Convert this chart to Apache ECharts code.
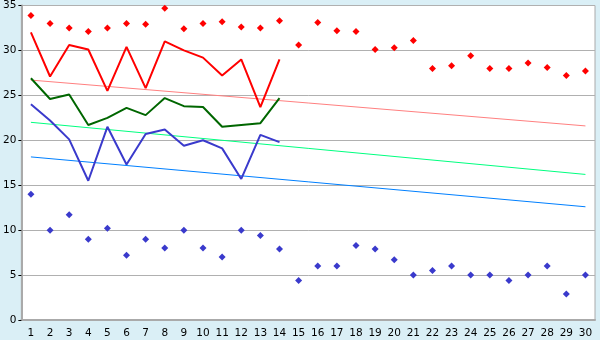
<!DOCTYPE html>
<html><head><meta charset="utf-8">
<script src="https://cdn.jsdelivr.net/npm/echarts@6/dist/echarts.min.js"></script>
<style>html,body{margin:0;padding:0;background:#daeff6;}#c{width:600px;height:340px;}</style>
</head><body><div id="c"></div>
<script>
var categories = ['1','2','3','4','5','6','7','8','9','10','11','12','13','14','15','16','17','18','19','20','21','22','23','24','25','26','27','28','29','30'];
var yTicks = [0,5,10,15,20,25,30,35];
var redLine = [32.0,27.1,30.6,30.1,25.5,30.4,25.8,31.0,30.0,29.2,27.2,29.0,23.7,29.0];
var greenLine = [26.9,24.6,25.1,21.7,22.5,23.6,22.8,24.7,23.8,23.7,21.5,21.7,21.9,24.7];
var blueLine = [24.0,22.2,20.1,15.5,21.5,17.3,20.7,21.2,19.4,20.0,19.1,15.7,20.6,19.8];
var redPoints = [33.9,33.0,32.5,32.1,32.5,33.0,32.9,34.7,32.4,33.0,33.2,32.6,32.5,33.3,30.6,33.1,32.2,32.1,30.1,30.3,31.1,28.0,28.3,29.4,28.0,28.0,28.6,28.1,27.2,27.7];
var bluePoints = [14.0,10.0,11.7,9.0,10.2,7.2,9.0,8.0,10.0,8.0,7.0,10.0,9.4,7.9,4.4,6.0,6.0,8.3,7.9,6.7,5.0,5.5,6.0,5.0,5.0,4.4,5.0,6.0,2.9,5.0];
var trendRed = [['1',26.7],['30',21.6]];
var trendGreen = [['1',22.0],['30',16.2]];
var trendBlue = [['1',18.15],['30',12.6]];

var chart = echarts.init(document.getElementById('c'));
function line(data, color, w){
  return {type:'line', data:data, symbol:'none', animation:false, silent:true,
    lineStyle:{color:color, width:w}, itemStyle:{color:color}};
}
function pts(data, color){
  return {type:'scatter', data:data, symbol:'diamond', symbolSize:7, animation:false,
    itemStyle:{color:color, opacity:1}};
}
chart.setOption({
  backgroundColor:'#daeff6',
  animation:false,
  grid:{left:20,right:5,top:5,bottom:20,show:true,backgroundColor:'#ffffff',borderColor:'#aaaaaa',borderWidth:1},
  xAxis:{type:'category', data:categories, boundaryGap:true,
    axisLine:{lineStyle:{color:'#aaaaaa',width:2}},
    axisTick:{alignWithLabel:true,length:5,lineStyle:{color:'#000000'}},
    axisLabel:{color:'#000',fontFamily:'DejaVu Sans',fontSize:10.5,margin:8,interval:0},
    splitLine:{show:false}},
  yAxis:{type:'value', min:yTicks[0], max:yTicks[yTicks.length-1], interval:5,
    axisLine:{show:true,lineStyle:{color:'#aaaaaa',width:2}},
    axisTick:{show:true,length:3,lineStyle:{color:'#000'}},
    axisLabel:{color:'#000',fontFamily:'DejaVu Sans',fontSize:10.5,margin:5},
    splitLine:{lineStyle:{color:'#b0b0b0',width:1}}},
  series:[
    line(trendRed,'#ff8080',1),
    line(trendGreen,'#00ff80',1),
    line(trendBlue,'#0080ff',1),
    line(redLine,'#ff0000',2),
    line(greenLine,'#006600',2),
    line(blueLine,'#3a3acc',2),
    pts(redPoints,'#ff0000'),
    pts(bluePoints,'#3a3acc')
  ]
});
</script></body></html>
